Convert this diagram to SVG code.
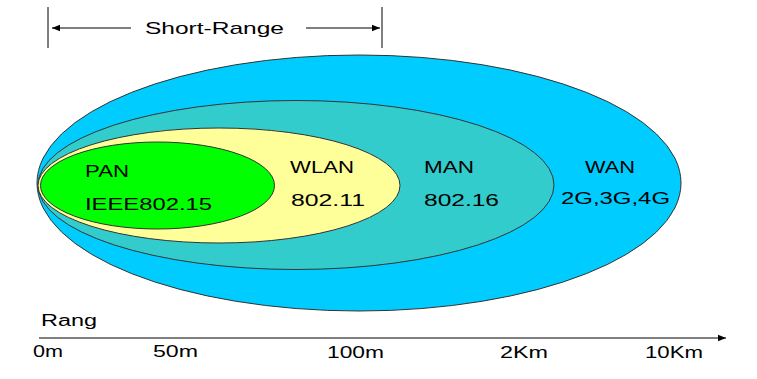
<svg xmlns="http://www.w3.org/2000/svg" width="757" height="379" viewBox="0 0 757 379">
<defs>
<marker id="ah" viewBox="0 0 10 10" refX="10" refY="5" markerWidth="8" markerHeight="8" markerUnits="userSpaceOnUse" orient="auto-start-reverse">
<path d="M0,1 L10,5 L0,9 Z" fill="#000"/>
</marker>
<style>
.e{stroke:#333;stroke-width:1}
.t{font-family:"Liberation Sans","DejaVu Sans",sans-serif;font-size:17px;fill:#000}
.s{font-family:"Liberation Sans","DejaVu Sans",sans-serif;font-size:16px;fill:#000}
.l{stroke:#000;stroke-width:1;fill:none}
</style>
</defs>
<rect width="757" height="379" fill="#fff"/>
<g id="wan">
<ellipse class="e" cx="359" cy="183" rx="322" ry="128" fill="#00CCFF"/>
<text class="t" x="585" y="173" textLength="50" lengthAdjust="spacingAndGlyphs">WAN</text>
<text class="t" x="561" y="204" textLength="109" lengthAdjust="spacingAndGlyphs">2G,3G,4G</text>
</g>
<g id="man">
<ellipse class="e" cx="296" cy="185" rx="258" ry="84.5" fill="#33CCCC"/>
<text class="t" x="424" y="173" textLength="50" lengthAdjust="spacingAndGlyphs">MAN</text>
<text class="t" x="424" y="206" textLength="75" lengthAdjust="spacingAndGlyphs">802.16</text>
</g>
<g id="wlan">
<ellipse class="e" cx="219" cy="185.5" rx="181" ry="57.5" fill="#FFFF99"/>
<text class="t" x="290" y="173" textLength="64" lengthAdjust="spacingAndGlyphs">WLAN</text>
<text class="t" x="291" y="206" textLength="74" lengthAdjust="spacingAndGlyphs">802.11</text>
</g>
<g id="pan">
<ellipse class="e" cx="157.5" cy="185.5" rx="117" ry="43.5" fill="#00FF00"/>
<text class="t" x="85" y="177" textLength="44" lengthAdjust="spacingAndGlyphs">PAN</text>
<text class="t" x="85" y="210" textLength="127" lengthAdjust="spacingAndGlyphs">IEEE802.15</text>
</g>
<g id="connectors">
<line class="l" x1="48" y1="7" x2="48" y2="48"/>
<line class="l" x1="382" y1="7" x2="382" y2="48"/>
<line class="l" x1="131" y1="28" x2="52" y2="28" marker-end="url(#ah)"/>
<line class="l" x1="306" y1="28" x2="380" y2="28" marker-end="url(#ah)"/>
<line class="l" x1="39" y1="338" x2="726" y2="338" marker-end="url(#ah)"/>
</g>
<g id="short-range">
<text class="t" x="145" y="34" textLength="139" lengthAdjust="spacingAndGlyphs">Short-Range</text>
</g>
<g id="axis">
<text class="s" x="41" y="326" textLength="56" lengthAdjust="spacingAndGlyphs">Rang</text>
<text class="s" x="33" y="357" textLength="30" lengthAdjust="spacingAndGlyphs">0m</text>
<text class="s" x="153" y="357" textLength="45" lengthAdjust="spacingAndGlyphs">50m</text>
<text class="s" x="327" y="358" textLength="57" lengthAdjust="spacingAndGlyphs">100m</text>
<text class="s" x="500" y="358" textLength="48" lengthAdjust="spacingAndGlyphs">2Km</text>
<text class="s" x="645" y="358" textLength="58" lengthAdjust="spacingAndGlyphs">10Km</text>
</g>
</svg>
